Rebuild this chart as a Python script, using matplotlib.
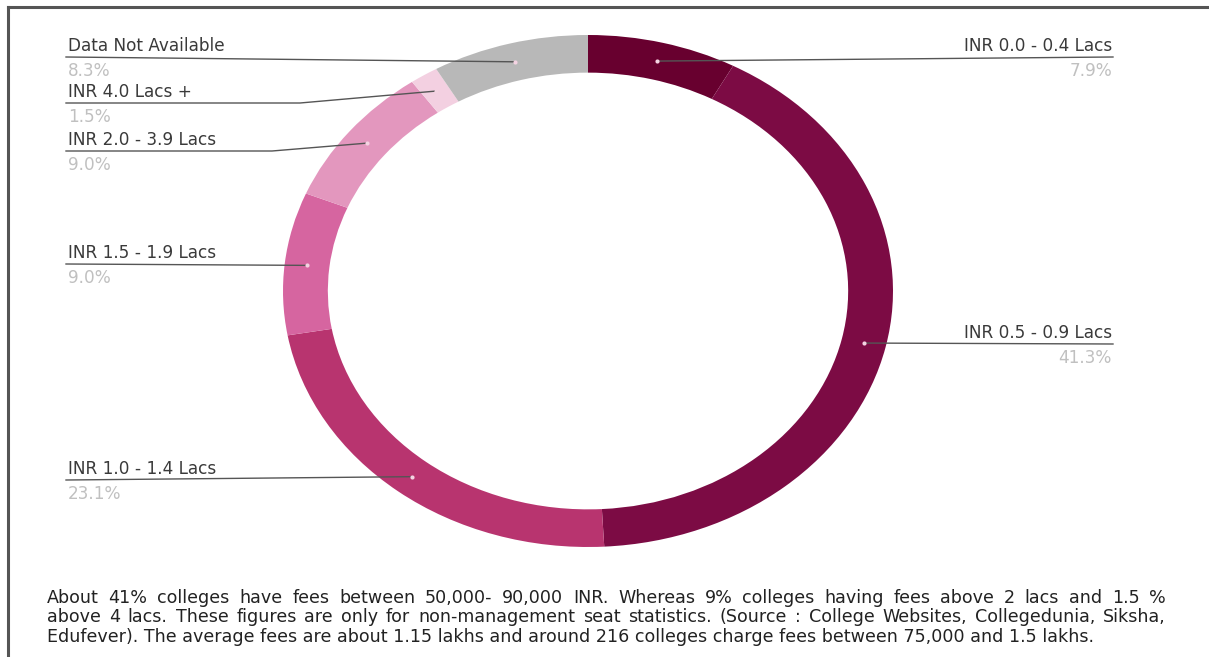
import numpy as np
import matplotlib.pyplot as plt

# --- data ---
categories = ['INR 0.0 - 0.4 Lacs', 'INR 0.5 - 0.9 Lacs', 'INR 1.0 - 1.4 Lacs',
              'INR 1.5 - 1.9 Lacs', 'INR 2.0 - 3.9 Lacs', 'INR 4.0 Lacs +',
              'Data Not Available']
shares = [7.9, 41.3, 23.1, 9.0, 9.0, 1.5, 8.3]
pct_labels = ['7.9%', '41.3%', '23.1%', '9.0%', '9.0%', '1.5%', '8.3%']
colors = ['#68002f', '#7c0b44', '#b8346f', '#d665a0', '#e397be', '#f3d0e1', '#b8b8b8']

note_lines = [
    "About 41% colleges have fees between 50,000- 90,000 INR. Whereas 9% colleges having fees above 2 lacs and 1.5 %",
    "above 4 lacs. These figures are only for non-management seat statistics. (Source : College Websites, Collegedunia, Siksha,",
    "Edufever). The average fees are about 1.15 lakhs and around 216 colleges charge fees between 75,000 and 1.5 lakhs.",
]

# label layout (pixel positions): side, y of leader line, elbow x
label_layout = [
    ('right', 57, None),
    ('right', 344, None),
    ('left', 480, None),
    ('left', 264, None),
    ('left', 151, 272),
    ('left', 103, 300),
    ('left', 57, None),
]

W, H = 1209, 657
fig = plt.figure(figsize=(W / 100, H / 100), dpi=100)
plt.rcParams['font.family'] = 'DejaVu Sans'

# donut (stretched into an ellipse)
x0, x1, y0, y1 = 283, 893, 35, 547
ax = fig.add_axes([x0 / W, 1 - y1 / H, (x1 - x0) / W, (y1 - y0) / H])
ring = 0.147
wedges, _ = ax.pie(shares, colors=colors, startangle=90, counterclock=False,
                   radius=1, wedgeprops=dict(width=ring, linewidth=0))
ax.set_aspect('auto')
ax.set_xlim(-1, 1)
ax.set_ylim(-1, 1)

# overlay in pixel coordinates
ov = fig.add_axes([0, 0, 1, 1])
ov.set_xlim(0, W)
ov.set_ylim(H, 0)
ov.axis('off')

rmid = 1 - ring / 2
lfs = 12.2
for w, cat, pct, (side, ly, elbow) in zip(wedges, categories, pct_labels, label_layout):
    theta = np.deg2rad((w.theta1 + w.theta2) / 2)
    pt = ax.transData.transform((rmid * np.cos(theta), rmid * np.sin(theta)))
    dx, dy = ov.transData.inverted().transform(pt)
    if side == 'left':
        xe, tx, ha = 66, 68, 'left'
    else:
        xe, tx, ha = 1113, 1112, 'right'
    ov.text(tx, ly - 2, cat, ha=ha, va='bottom', fontsize=lfs, color='#3a3a3a')
    ov.text(tx, ly + 5, pct, ha=ha, va='top', fontsize=lfs, color='#c0c0c0')
    xs = [xe] + ([elbow] if elbow else []) + [dx]
    ys = [ly] + ([ly] if elbow else []) + [dy]
    ov.plot(xs, ys, color='#555555', lw=1)
    ov.plot(dx, dy, 'o', ms=3, color='#f4d3e2', mec='none')

# frame lines on top and left
ov.plot([8, W], [7, 7], color='#555555', lw=2.2)
ov.plot([8, 8], [7, H], color='#555555', lw=2.2)

# justified note
renderer = fig.canvas.get_renderer()
left, right = 47, 1166
fs = 12.6
for i, line in enumerate(note_lines):
    y = 598 + i * 19.5
    if i == len(note_lines) - 1:
        ov.text(left, y, line, ha='left', va='center', fontsize=fs, color='#222222')
        continue
    words = line.split()
    texts = [ov.text(0, y, wd, ha='left', va='center', fontsize=fs,
                     color='#222222') for wd in words]
    widths = [t.get_window_extent(renderer).width for t in texts]
    gap = (right - left - sum(widths)) / (len(words) - 1)
    x = left
    for t, wd in zip(texts, widths):
        t.set_x(x)
        x += wd + gap

fig.savefig('out.png', dpi=100, facecolor='white')
